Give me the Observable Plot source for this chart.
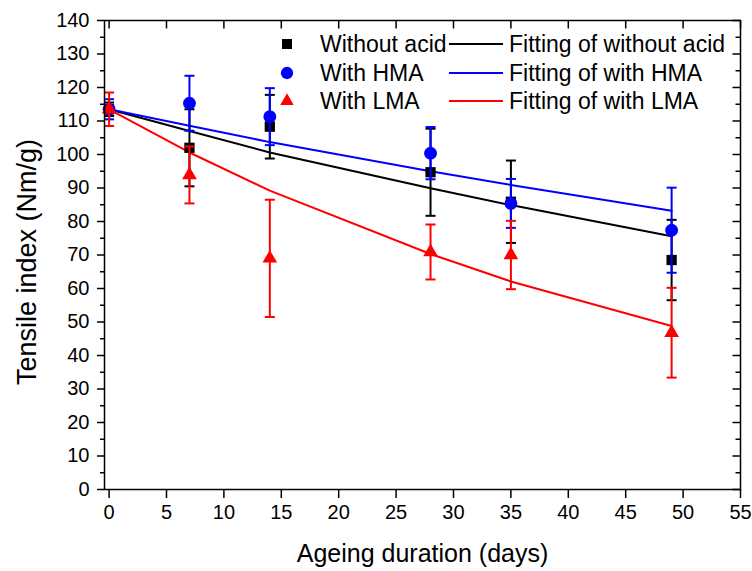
<!DOCTYPE html>
<html>
<head>
<meta charset="utf-8">
<script src="https://cdn.jsdelivr.net/npm/d3@7"></script>
<script src="https://cdn.jsdelivr.net/npm/@observablehq/plot@0.6"></script>
<style>
  html, body { margin: 0; padding: 0; background: #fff; }
  #chart svg { font-family: "Liberation Sans", Arial, sans-serif; }
</style>
</head>
<body>
<div id="chart"></div>
<script>
// ---- data ----
const days = [0, 7, 14, 28, 35, 49];
const seriesNames = ["Without acid", "With HMA", "With LMA"];
const fitNames = ["Fitting of without acid", "Fitting of with HMA", "Fitting of with LMA"];
const xTitle = "Ageing duration (days)";
const yTitle = "Tensile index (Nm/g)";

const withoutAcid    = [113.5, 102.0, 108.3, 94.7, 85.9, 68.5];
const withoutAcidErr = [2.0, 11.5, 9.5, 13.0, 12.3, 12.0];
const withHMA        = [113.5, 115.3, 111.3, 100.4, 85.4, 77.4];
const withHMAErr     = [3.0, 8.2, 8.5, 7.8, 7.3, 12.7];
const withLMA        = [113.5, 93.9, 69.0, 70.9, 70.0, 46.8];
const withLMAErr     = [5.0, 8.5, 17.5, 8.2, 10.2, 13.4];

const fitWithoutAcid = [113.5, 107.0, 100.6, 89.9, 84.9, 75.6];
const fitHMA         = [113.5, 108.6, 103.7, 95.0, 90.9, 83.2];
const fitLMA         = [113.5, 100.6, 89.2, 70.3, 62.1, 48.8];

const xTicks = [0, 5, 10, 15, 20, 25, 30, 35, 40, 45, 50, 55];
const yTicks = [0, 10, 20, 30, 40, 50, 60, 70, 80, 90, 100, 110, 120, 130, 140];
const yMinorTicks = [5, 15, 25, 35, 45, 55, 65, 75, 85, 95, 105, 115, 125, 135];

// ---- build table ----
const values = [withoutAcid, withHMA, withLMA];
const errs = [withoutAcidErr, withHMAErr, withLMAErr];
const fits = [fitWithoutAcid, fitHMA, fitLMA];
const colors = ["#000000", "#0000ff", "#ff0000"];
const symbols = ["square", "circle", "triangle2"];
const radii = [5.8, 6.4, 7.0];

const rows = seriesNames.map((s, i) => days.map((d, j) => ({
  series: s, day: d, value: values[i][j], err: errs[i][j], fit: fits[i][j]
})));

const cap = { draw(context) { context.moveTo(-5, 0); context.lineTo(5, 0); } };
const tickIn = (len, dir) => ({ draw(context) {
  context.moveTo(0, 0);
  if (dir === "left") context.lineTo(-len, 0); else context.lineTo(0, len);
} });

const marks = [];
rows.forEach((r, i) => {
  marks.push(Plot.line(r, { x: "day", y: "fit", stroke: colors[i], strokeWidth: 2 }));
});
rows.forEach((r, i) => {
  marks.push(Plot.ruleX(r, { x: "day", y1: d => d.value - d.err, y2: d => d.value + d.err, stroke: colors[i], strokeWidth: 2 }));
  marks.push(Plot.dot(r, { x: "day", y: d => d.value + d.err, symbol: cap, stroke: colors[i], strokeWidth: 2, fill: "none" }));
  marks.push(Plot.dot(r, { x: "day", y: d => d.value - d.err, symbol: cap, stroke: colors[i], strokeWidth: 2, fill: "none" }));
  marks.push(Plot.dot(r, { x: "day", y: "value", symbol: symbols[i], fill: colors[i], stroke: "none", r: radii[i] }));
});

const chart = Plot.plot({
  width: 752,
  height: 571,
  marginLeft: 104,
  marginRight: 12,
  marginTop: 20,
  marginBottom: 82,
  style: { fontFamily: "Liberation Sans, Arial, sans-serif", background: "#fff" },
  x: { domain: [-0.4, 55] },
  y: { domain: [0, 140] },
  marks: [
    ...marks,
    Plot.frame({ stroke: "#000", strokeWidth: 1.5 }),
    // left axis
    Plot.axisY({ ticks: yTicks, tickSize: 7, tickPadding: 8, fontSize: 20, strokeWidth: 1.5, label: null }),
    Plot.axisY({ ticks: yMinorTicks, tickSize: 4, tickFormat: () => "", strokeWidth: 1.5, label: null }),
    // right axis ticks (inward)
    Plot.dot(yTicks, { y: d => d, frameAnchor: "right", symbol: tickIn(8, "left"), stroke: "#000", strokeWidth: 1.5, fill: "none" }),
    Plot.dot(yMinorTicks, { y: d => d, frameAnchor: "right", symbol: tickIn(5, "left"), stroke: "#000", strokeWidth: 1.5, fill: "none" }),
    // bottom axis
    Plot.axisX({ ticks: xTicks, tickSize: 9, tickPadding: 6, fontSize: 20, strokeWidth: 1.5, label: null }),
    // top axis ticks (inward)
    Plot.dot(xTicks, { x: d => d, frameAnchor: "top", symbol: tickIn(8, "down"), stroke: "#000", strokeWidth: 1.5, fill: "none" }),
    // axis titles
    Plot.text([xTitle], { text: d => d, frameAnchor: "bottom", textAnchor: "middle", dy: 64, fontSize: 25, lineAnchor: "middle" }),
    Plot.text([yTitle], { text: d => d, frameAnchor: "left", textAnchor: "middle", rotate: -90, dx: -77, dy: 7, fontSize: 27, lineAnchor: "middle" })
  ]
});

document.getElementById("chart").appendChild(chart);

// ---- in-plot legend ----
const svg = d3.select(chart);
const lg = svg.append("g")
  .attr("font-family", "Liberation Sans, Arial, sans-serif")
  .attr("font-size", 23)
  .attr("text-anchor", "start");
const rowY = [44, 73, 101];
const symTypes = [d3.symbolSquare, d3.symbolCircle, d3.symbolTriangle2];
const symSizes = [100, 120, 130];
seriesNames.forEach((s, i) => {
  lg.append("path")
    .attr("d", d3.symbol(symTypes[i], symSizes[i])())
    .attr("transform", `translate(287,${rowY[i]})`)
    .attr("fill", colors[i]);
  lg.append("text").attr("x", 320).attr("y", rowY[i]).attr("dy", "0.36em").text(s);
  lg.append("line").attr("x1", 449).attr("x2", 503).attr("y1", rowY[i]).attr("y2", rowY[i])
    .attr("stroke", colors[i]).attr("stroke-width", 2);
  lg.append("text").attr("x", 509).attr("y", rowY[i]).attr("dy", "0.36em").text(fitNames[i]);
});
</script>
</body>
</html>
